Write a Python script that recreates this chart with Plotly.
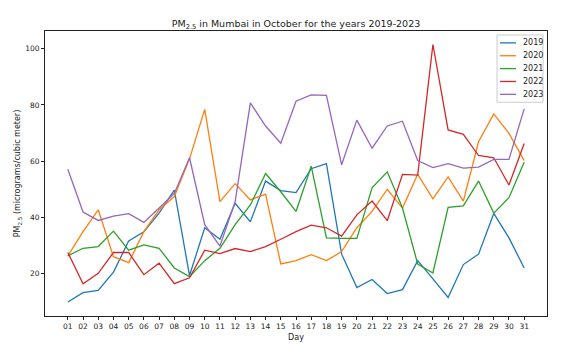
import plotly.graph_objects as go

days = list(range(1, 32))
day_labels = [f"{d:02d}" for d in days]
years = ["2019", "2020", "2021", "2022", "2023"]

pm_2019 = [9.9, 13.2, 14.0, 20.5, 31.6, 34.9, 41.5, 49.7, 19.3, 36.3, 32.2,
           45.0, 38.4, 52.9, 49.5, 48.8, 57.3, 59.1, 26.9, 15.0, 17.9, 12.9,
           14.3, 24.6, 18.1, 11.5, 23.2, 26.9, 41.4, 32.7, 22.0]
pm_2020 = [26.3, 34.9, 42.7, 26.0, 23.9, 34.9, 42.7, 47.4, 60.8, 78.4, 45.6,
           52.0, 46.2, 48.3, 23.4, 24.6, 26.7, 24.6, 27.8, 36.3, 42.1, 50.0,
           43.3, 55.3, 46.6, 54.4, 45.8, 66.9, 76.8, 69.9, 60.2]
pm_2021 = [26.3, 29.0, 29.6, 35.1, 28.3, 30.2, 29.0, 22.0, 18.9, 24.6, 29.0,
           37.4, 44.4, 55.6, 49.1, 42.1, 58.2, 32.7, 32.5, 32.5, 50.5, 56.2,
           43.3, 23.4, 20.2, 43.6, 44.1, 52.9, 41.5, 47.0, 59.6]
pm_2022 = [27.5, 16.4, 20.1, 27.5, 27.5, 19.6, 23.7, 16.4, 18.5, 28.3, 27.1,
           28.9, 27.8, 29.6, 32.2, 34.9, 37.2, 36.3, 33.3, 40.9, 45.8, 38.8,
           55.3, 55.0, 101.5, 71.1, 69.5, 62.0, 61.2, 51.5, 66.3]
pm_2023 = [57.1, 41.9, 38.9, 40.4, 41.3, 38.2, 43.3, 48.5, 61.2, 37.4, 29.8,
           45.6, 80.7, 72.5, 66.4, 81.3, 83.6, 83.4, 58.7, 74.6, 64.6, 72.5,
           74.2, 60.2, 57.7, 59.1, 57.5, 57.9, 60.6, 60.6, 78.6]

series = [pm_2019, pm_2020, pm_2021, pm_2022, pm_2023]
colors = ["#1f77b4", "#ff7f0e", "#2ca02c", "#d62728", "#9467bd"]

fig = go.Figure()
for name, vals, c in zip(years, series, colors):
    fig.add_trace(go.Scatter(x=days, y=vals, mode="lines", name=name,
                             line=dict(color=c, width=1.3)))

font = "DejaVu Sans"

# compact matplotlib-style legend drawn in paper coordinates
shapes = [dict(type="rect", xref="paper", yref="paper",
               x0=0.9004, x1=0.992, y0=0.75, y1=0.986,
               fillcolor="rgba(255,255,255,0.85)", line=dict(color="#cccccc", width=1))]
annotations = []
for i, (name, c) in enumerate(zip(years, colors)):
    yp = (319 - 43 - 13.0 * i) / 288
    shapes.append(dict(type="line", xref="paper", yref="paper",
                       x0=0.9064, x1=0.9383, y0=yp, y1=yp,
                       line=dict(color=c, width=1.3)))
    annotations.append(dict(text=name, xref="paper", yref="paper", x=0.948, y=yp,
                            xanchor="left", yanchor="middle", showarrow=False,
                            font=dict(family=font, size=8, color="#222")))

fig.update_layout(
    width=582, height=353,
    margin=dict(l=45, r=35, t=31, b=34),
    paper_bgcolor="white", plot_bgcolor="white",
    font=dict(family=font, size=8, color="#222"),
    title=dict(text="PM<sub>2.5</sub> in Mumbai in October for the years 2019-2023",
               x=0.5, xref="paper", xanchor="center",
               y=1, yref="paper", yanchor="bottom", pad=dict(b=4),
               font=dict(family=font, size=9.5, color="#222")),
    showlegend=False,
    shapes=shapes,
    annotations=annotations,
)
fig.update_xaxes(
    range=[-0.5, 32.5], tickmode="array", tickvals=days, ticktext=day_labels,
    ticks="outside", ticklen=3, tickwidth=0.8, tickcolor="#222",
    showline=True, linecolor="#222", linewidth=0.8, mirror=True,
    showgrid=False, zeroline=False,
    title=dict(text="Day", font=dict(size=8), standoff=4),
    tickfont=dict(size=7.5),
)
fig.update_yaxes(
    range=[4.9, 106.3], tickvals=[20, 40, 60, 80, 100],
    ticks="outside", ticklen=3, tickwidth=0.8, tickcolor="#222",
    showline=True, linecolor="#222", linewidth=0.8, mirror=True,
    showgrid=False, zeroline=False,
    title=dict(text="PM<sub>2.5</sub> (micrograms/cubic meter)", font=dict(size=8), standoff=3),
    tickfont=dict(size=7.5),
)
fig.write_html("out.html")
